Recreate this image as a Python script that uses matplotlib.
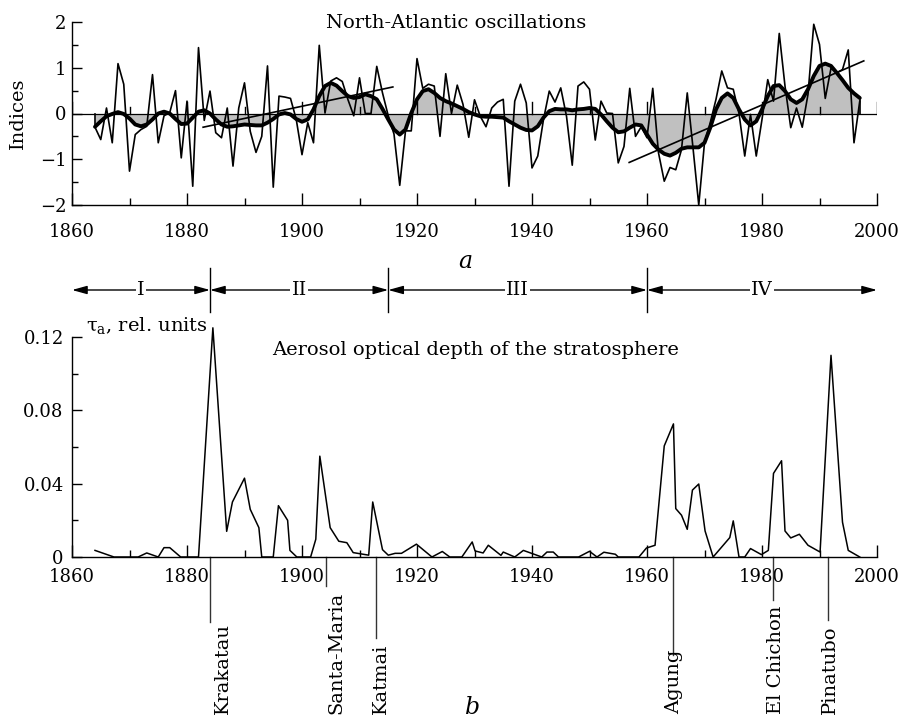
import numpy as np
import matplotlib
matplotlib.use("Agg")
import matplotlib.pyplot as plt
import matplotlib.transforms as mtransforms

plt.rcParams['font.family'] = ['DejaVu Serif']
plt.rcParams['mathtext.fontset'] = 'dejavuserif'
plt.rcParams['font.size'] = 14
plt.rcParams['xtick.labelsize'] = 13
plt.rcParams['ytick.labelsize'] = 13

# --- data ---
# NAO index, one value per year from 1864
nao = [-0.30, -0.57, 0.12, -0.64, 1.09, 0.64, -1.26, -0.46, -0.35, -0.28,
       0.85, -0.64, -0.05, 0.02, 0.50, -0.97, 0.27, -1.59, 1.44, -0.15,
       0.49, -0.42, -0.53, 0.12, -1.15, 0.12, 0.67, -0.39, -0.85, -0.50,
       1.04, -1.61, 0.38, 0.36, 0.33, -0.13, -0.90, -0.20, -0.64, 1.49,
       0.01, 0.71, 0.78, 0.70, 0.30, -0.05, 0.78, 0.00, 0.00, 1.03,
       0.45, -0.05, -0.45, -1.57, -0.38, -0.38, 1.20, 0.55, 0.64, 0.60,
       -0.50, 0.87, 0.00, 0.62, 0.20, -0.52, 0.30, -0.06, -0.29, 0.12,
       0.25, 0.31, -1.59, 0.27, 0.64, 0.23, -1.19, -0.93, -0.13, 0.49,
       0.25, 0.56, -0.06, -1.13, 0.60, 0.69, 0.53, -0.58, 0.27, 0.01,
       0.00, -1.08, -0.72, 0.55, -0.50, -0.29, -0.53, 0.55, -0.86, -1.48,
       -1.18, -1.23, -0.79, 0.45, -0.75, -2.00, -0.64, -0.20, 0.31, 0.93,
       0.56, 0.53, 0.00, -0.93, -0.02, -0.93, -0.13, 0.74, 0.27, 1.75,
       0.60, -0.31, 0.12, -0.30, 0.42, 1.95, 1.51, 0.33, 0.99, 0.89,
       0.96, 1.39, -0.64, 0.27]

# smoothed NAO, same years
nao_smooth = [-0.29, -0.17, -0.06, -0.01, 0.03, -0.01, -0.11, -0.24, -0.28, -0.24,
              -0.13, 0.00, 0.04, 0.00, -0.12, -0.23, -0.22, -0.09, 0.04, 0.07,
              0.00, -0.13, -0.24, -0.29, -0.28, -0.26, -0.24, -0.25, -0.26, -0.26,
              -0.20, -0.12, -0.02, 0.01, -0.02, -0.12, -0.18, -0.13, 0.09, 0.38,
              0.60, 0.67, 0.61, 0.49, 0.38, 0.34, 0.36, 0.42, 0.38, 0.31,
              0.10, -0.13, -0.35, -0.46, -0.35, 0.01, 0.31, 0.49, 0.53, 0.45,
              0.34, 0.27, 0.22, 0.16, 0.10, 0.03, -0.02, -0.06, -0.07, -0.07,
              -0.08, -0.09, -0.17, -0.24, -0.31, -0.36, -0.37, -0.28, -0.09, 0.05,
              0.10, 0.09, 0.09, 0.07, 0.09, 0.10, 0.12, 0.10, -0.02, -0.17,
              -0.31, -0.41, -0.39, -0.31, -0.24, -0.26, -0.46, -0.66, -0.79, -0.88,
              -0.92, -0.86, -0.77, -0.74, -0.74, -0.74, -0.64, -0.31, 0.09, 0.34,
              0.44, 0.34, 0.09, -0.13, -0.26, -0.17, 0.09, 0.38, 0.60, 0.62,
              0.49, 0.31, 0.23, 0.31, 0.53, 0.82, 1.04, 1.09, 1.04, 0.89,
              0.73, 0.56, 0.44, 0.34]

nao_years = np.arange(1864, 1864 + len(nao))

# linear trends
trend1_years = [1882.8, 1915.8]
trend1_vals = [-0.30, 0.58]
trend2_years = [1956.9, 1997.7]
trend2_vals = [-1.07, 1.15]

# stratospheric aerosol optical depth
tau_years = [1864.0, 1867.3, 1871.5, 1873.0, 1875.0, 1876.0, 1877.0, 1878.9, 1882.0,
             1884.5, 1886.9, 1887.9, 1890.0, 1891.0, 1892.5, 1893.0, 1895.0, 1895.9,
             1897.5, 1897.9, 1899.1, 1901.5, 1902.4, 1903.1, 1904.9, 1906.4, 1907.8,
             1908.9, 1911.6, 1912.3, 1914.0, 1915.0, 1916.2, 1917.3, 1919.9, 1922.6,
             1924.4, 1925.7, 1927.8, 1929.6, 1930.1, 1931.5, 1932.4, 1934.6, 1935.0,
             1937.0, 1938.5, 1941.7, 1942.6, 1943.7, 1944.6, 1948.1, 1950.0, 1951.3,
             1952.5, 1954.5, 1955.0, 1958.6, 1959.9, 1961.4, 1963.0, 1964.6, 1965.0,
             1966.0, 1967.0, 1967.9, 1969.0, 1970.1, 1971.5, 1974.4, 1975.0, 1976.0,
             1977.0, 1978.0, 1979.9, 1981.1, 1982.0, 1983.4, 1984.0, 1985.0, 1986.5,
             1988.0, 1990.1, 1992.0, 1994.0, 1995.0, 1997.0]
tau = [0.0036, 0.0, 0.0, 0.0022, 0.0, 0.0051, 0.0051, 0.0, 0.0,
       0.125, 0.014, 0.030, 0.043, 0.026, 0.016, 0.0, 0.0, 0.028,
       0.020, 0.0036, 0.0, 0.0, 0.0097, 0.055, 0.016, 0.0086, 0.0078,
       0.0024, 0.001, 0.030, 0.004, 0.001, 0.002, 0.002, 0.007, 0.0,
       0.003, 0.0, 0.0, 0.0082, 0.0033, 0.0022, 0.0064, 0.0009, 0.0027,
       0.0, 0.0036, 0.0, 0.0027, 0.0027, 0.0, 0.0, 0.0031, 0.0,
       0.0026, 0.0015, 0.0, 0.0, 0.0049, 0.0064, 0.0606, 0.0726, 0.0264,
       0.0228, 0.0151, 0.0365, 0.0398, 0.0142, 0.0, 0.0106, 0.0197, 0.0,
       0.0, 0.0046, 0.0013, 0.0036, 0.0456, 0.0525, 0.0142, 0.0104, 0.0124,
       0.0064, 0.0027, 0.110, 0.019, 0.0036, 0.0]

volcanoes = ['Krakatau', 'Santa-Maria', 'Katmai', 'Agung', 'El Chichon', 'Pinatubo']
volcano_years = [1884.0, 1904.1, 1912.8, 1964.5, 1981.9, 1991.5]

periods = ['I', 'II', 'III', 'IV']
period_bounds = [1860, 1884, 1915, 1960, 2000]

# --- layout helpers (pixel boxes) ---
W, H = 901, 720
fig = plt.figure(figsize=(W / 100, H / 100), dpi=100)


def px_axes(x0, y_top, x1, y_bot):
    return fig.add_axes([x0 / W, 1 - y_bot / H, (x1 - x0) / W, (y_bot - y_top) / H])


def style_axes(ax):
    for s in ['top', 'right']:
        ax.spines[s].set_visible(False)
    for s in ['left', 'bottom']:
        ax.spines[s].set_linewidth(1.0)
    ax.set_xlim(1860, 2000)
    ax.set_xticks(range(1860, 2001, 20))
    ax.set_xticks(range(1870, 2000, 20), minor=True)
    ax.tick_params(which='both', direction='in', width=1.0)


# --- a: NAO ---
ax1 = px_axes(72, 22, 877, 205)
style_axes(ax1)
ax1.set_ylim(-2, 2)
ax1.set_yticks([-2, -1, 0, 1, 2])
ax1.set_yticks([-1.5, -0.5, 0.5, 1.5], minor=True)
ax1.tick_params(axis='x', which='major', length=8.5, pad=13)
ax1.tick_params(axis='x', which='minor', length=5)
ax1.tick_params(axis='y', which='major', length=7, pad=4)
ax1.tick_params(axis='y', which='minor', length=4)

ax1.fill_between(nao_years, 0, nao_smooth, color='#c0c0c0', lw=0, zorder=1)
ax1.axhline(0, color='black', lw=0.9, zorder=2)
# small ticks on the zero line
for yr in ax1.get_xticks():
    ax1.plot([yr, yr], [0, 0.26], color='black', lw=1.0, zorder=2)
for yr in ax1.get_xticks(minor=True):
    ax1.plot([yr, yr], [0, 0.15], color='black', lw=1.0, zorder=2)
# closing edges of the shaded area
ax1.plot([nao_years[0]] * 2, [0, nao_smooth[0]], color='black', lw=1.2, zorder=3)
ax1.plot([nao_years[-1]] * 2, [0, nao_smooth[-1]], color='black', lw=1.2, zorder=3)
ax1.plot(nao_years, nao, color='black', lw=1.2, zorder=3)
ax1.plot(nao_years, nao_smooth, color='black', lw=2.8, zorder=4,
         solid_joinstyle='round', solid_capstyle='round')
ax1.plot(trend1_years, trend1_vals, color='black', lw=1.2, zorder=4)
ax1.plot(trend2_years, trend2_vals, color='black', lw=1.2, zorder=4)

fig.text(456 / W, 1 - 28 / H, 'North-Atlantic oscillations', ha='center', va='baseline')
fig.text(18 / W, 1 - 113 / H, 'Indices', rotation=90, ha='center', va='center')
fig.text(465 / W, 1 - 262 / H, 'a', style='italic', fontsize=17, ha='center', va='center')

# --- periods row ---
axp = px_axes(72, 265, 877, 315)
axp.set_xlim(1860, 2000)
axp.set_ylim(0, 1)
axp.axis('off')
for i, name in enumerate(periods):
    x0, x1 = period_bounds[i], period_bounds[i + 1]
    axp.annotate('', xy=(x1, 0.5), xytext=(x0, 0.5),
                 arrowprops=dict(arrowstyle='<|-|>,head_length=0.9,head_width=0.25',
                                 mutation_scale=10, color='black', lw=1.0,
                                 shrinkA=0, shrinkB=0))
    axp.text((x0 + x1) / 2, 0.5, name, ha='center', va='center',
             bbox=dict(facecolor='white', edgecolor='none', pad=1.0))
for b in period_bounds[1:-1]:
    axp.plot([b, b], [0.06, 0.94], color='black', lw=1.0)

# --- b: aerosol optical depth ---
ax2 = px_axes(72, 337, 877, 557)
style_axes(ax2)
ax2.set_ylim(0, 0.12)
ax2.set_yticks([0, 0.04, 0.08, 0.12])
ax2.set_yticklabels(['0', '0.04', '0.08', '0.12'])
ax2.set_yticks([0.02, 0.06, 0.10], minor=True)
ax2.tick_params(axis='x', which='major', length=8.5, pad=8)
ax2.tick_params(axis='x', which='minor', length=5)
ax2.tick_params(axis='y', which='major', length=7, pad=6)
ax2.tick_params(axis='y', which='minor', length=4.5)
ax2.plot(tau_years, tau, color='black', lw=1.1, clip_on=False)

fig.text(86 / W, 1 - 331 / H, r'τ$_{\rm a}$, rel. units', ha='left', va='baseline')
fig.text(476 / W, 1 - 355 / H, 'Aerosol optical depth of the stratosphere',
         ha='center', va='baseline')

# volcano markers below the axis
blend = mtransforms.blended_transform_factory(ax2.transData, fig.transFigure)
line_end_px = [622, 586, 638, 655, 600, 620]
text_shift = [2.2, 1.9, 1.0, 0.2, 0.5, 0.3]
for name, yr, yend, dx in zip(volcanoes, volcano_years, line_end_px, text_shift):
    ax2.plot([yr, yr], [1 - 557 / H, 1 - yend / H], color='#333333', lw=1.0,
             transform=blend, clip_on=False)
    ax2.text(yr + dx, 1 - 714 / H, name, rotation=90, rotation_mode='anchor',
             ha='left', va='center', transform=blend)

fig.text(473 / W, 1 - 707 / H, 'b', style='italic', fontsize=17, ha='center', va='center')

fig.savefig('out.png', dpi=100)
